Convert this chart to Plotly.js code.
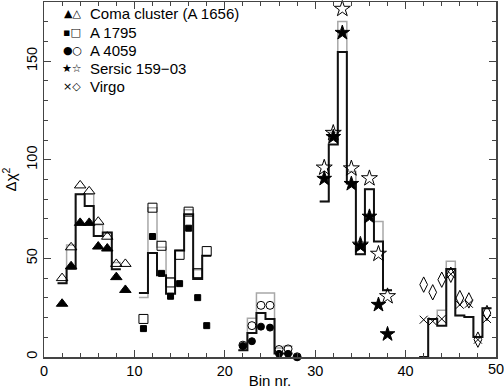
<!DOCTYPE html>
<html><head><meta charset="utf-8">
<script src="https://cdn.plot.ly/plotly-3.0.1.min.js"></script>
<style>html,body{margin:0;padding:0;background:#fff}#chart{width:504px;height:389px}</style>
</head><body><div id="chart"></div>
<script>
// Coma cluster (A 1656)
const comaBins = [2,3,4,5,6,7,8,9];
const comaFilled = [27,46,68,68,56,55,40.5,34];
const comaOpen = [40,55.6,87,84,68.6,61,47.2,47.2];
const comaLineBins = [2,3,4,5,6,7,8];
const comaBlack = [37.4,44.7,82.5,76.6,61.4,63.1,44.5];
const comaGray = [37.4,56.8,82.5,82.5,67,63.1,47.9];
// A 1795
const a1795Bins = [11,12,13,14,15,16,17,18];
const a1795Filled = [14.4,61.1,42.4,30.8,37.2,65.3,30.1,15.9];
const a1795Open = [19.3,75.7,56.4,37.8,51.8,73.7,42.5,53.7];
const a1795Black = [32.4,52.7,41.5,32.1,54,72.4,39.5,51.3];
const a1795Gray = [30.2,75.7,55.7,40,54,74.6,44.2,51.3];
// A 4059
const a4059Bins = [22,23,24,25,26,27,28];
const a4059Filled = [5.6,8,15.4,14.9,1.6,1.6,0];
const a4059Open = [6,15.9,26.2,26.2,3.8,4.1,0.1];
const a4059LineBins = [22,23,24,25,26,27];
const a4059Black = [3.4,12.2,22.3,19.3,1.8,1.8];
const a4059Gray = [3.4,19.6,32.4,32.4,4.6,5.5];
// Sersic 159-03
const sersicBins = [31,32,33,34,35,36,37,38];
const sersicFilled = [90.4,111.6,164.4,87.8,56.4,71.2,26.5,11.6];
const sersicOpen = [96,113.6,176.5,95.6,56.9,90.6,52.3,30.8];
const sersicBlack = [78.8,107.8,154.6,88,52.1,85,58.6,33.8];
const sersicGray = [78.8,114,170.1,94,52.1,85,68.7,34];
// Virgo
const virgoBins = [42,43,44,45,46,47,48,49];
const virgoCross = [18.9,18.1,19.3,42,26.5,27,8.8,19.3];
const virgoDiamond = [36.7,32.8,39.2,41.7,29.9,28.7,8.8,22.3];
const virgoBlack = [0,19.3,15.9,44.6,21,20.3,10.2,24.7];
const virgoGray = [0,19.3,23.7,48.5,21,20.3,10.2,24.7];

// tick labels
const xTicks = [0,10,20,30,40,50];
const yTicks = [0,50,100,150];

const legendLabels = ["Coma cluster (A 1656)","A 1795","A 4059","Sersic 159\u221203","Virgo"];
const legendSymbols = ["\u25B2\u25B3","\u25AA\u25A1","\u25CF\u25CB","\u2605\u2606","\u00D7\u25C7"];

function steps(bins, vals, color, width){
  const x = bins.map(b => b - 0.5).concat([bins[bins.length-1] + 0.5]);
  const y = vals.concat([vals[vals.length-1]]);
  return {x, y, type:'scatter', mode:'lines', line:{shape:'hv', color, width}, hoverinfo:'skip', cliponaxis:false};
}
function pts(bins, vals, symbol, size, lw){
  return {x:bins, y:vals, type:'scatter', mode:'markers', cliponaxis:false,
    marker:{symbol, size, color:'#000', line:{color:'#000', width:lw||1}}};
}
const GRAY = '#a8a8a8', BLACK = '#111';
const traces = [
  steps(comaLineBins, comaGray, GRAY, 1.5), steps(comaLineBins, comaBlack, BLACK, 2),
  steps(a1795Bins, a1795Gray, GRAY, 1.5), steps(a1795Bins, a1795Black, BLACK, 2),
  steps(a4059LineBins, a4059Gray, GRAY, 1.5), steps(a4059LineBins, a4059Black, BLACK, 2),
  steps(sersicBins, sersicGray, GRAY, 1.5), steps(sersicBins, sersicBlack, BLACK, 2),
  steps(virgoBins, virgoGray, GRAY, 1.5), steps(virgoBins, virgoBlack, BLACK, 2),
  pts(comaBins, comaFilled, 'triangle-up', 10), pts(comaBins, comaOpen, 'triangle-up-open', 10),
  pts(a1795Bins, a1795Filled, 'square', 6), pts(a1795Bins, a1795Open, 'square-open', 9),
  pts(a4059Bins, a4059Filled, 'circle', 7), pts(a4059Bins, a4059Open, 'circle-open', 8),
  pts(sersicBins, sersicFilled, 'star', 11), pts(sersicBins, sersicOpen, 'star-open', 12),
  pts(virgoBins, virgoCross, 'x-thin-open', 8, 1), pts(virgoBins, virgoDiamond, 'diamond-tall-open', 11)
];

const annotations = [];
legendLabels.forEach((t,i) => {
  const py = 13.5 + i*18.2;
  const yp = (357.5 - py)/356;
  annotations.push({xref:'paper', yref:'paper', x:(72-43.5)/452.5, y:yp, xanchor:'center', yanchor:'middle',
    text:legendSymbols[i], showarrow:false, font:{family:'DejaVu Sans', size:11, color:'#000'}});
  annotations.push({xref:'paper', yref:'paper', x:(88-43.5)/452.5, y:yp, xanchor:'left', yanchor:'middle',
    text:t, showarrow:false, font:{family:'Liberation Sans', size:15, color:'#000'}});
});
// the last x tick label, drawn as an annotation (Plotly hides it at the right edge)
const lastX = xTicks[xTicks.length-1];
annotations.push({xref:'x', yref:'paper', x:lastX, y:(357.5-370)/356, xanchor:'center', yanchor:'middle',
  text:String(lastX), showarrow:false, font:{family:'Liberation Sans', size:14.5, color:'#000'}});

const axisCommon = {showgrid:false, zeroline:false, showline:true, linecolor:'#444', linewidth:1.5,
  mirror:'allticks', ticks:'inside', tickcolor:'#444', ticklabeloverflow:'allow',
  tickfont:{family:'Liberation Sans', size:14.5, color:'#000'}};
const layout = {
  width:504, height:389, margin:{l:43.5, r:8, t:1.5, b:31.5},
  paper_bgcolor:'#fff', plot_bgcolor:'#fff', showlegend:false,
  xaxis:Object.assign({}, axisCommon, {range:[0,50], tickmode:'array', tickvals:xTicks,
    ticktext:xTicks.map(v => v === lastX ? '' : String(v)), ticklen:7,
    minor:{tickmode:'linear', tick0:0, dtick:2, ticklen:4, ticks:'inside', tickcolor:'#444'},
    title:{text:'Bin nr.', font:{family:'Liberation Sans', size:15, color:'#000'}, standoff:4}}),
  yaxis:Object.assign({}, axisCommon, {range:[0,180], tickmode:'array', tickvals:yTicks, ticktext:yTicks.map(String), ticklen:7, tickangle:-90,
    minor:{tickmode:'linear', tick0:0, dtick:10, ticklen:4, ticks:'inside', tickcolor:'#444'},
    title:{text:'\u0394\u03C7<sup>2</sup>', font:{family:'Liberation Sans', size:15, color:'#000'}, standoff:6}}),
  annotations
};
Plotly.newPlot('chart', traces, layout, {staticPlot:true});
</script></body></html>
